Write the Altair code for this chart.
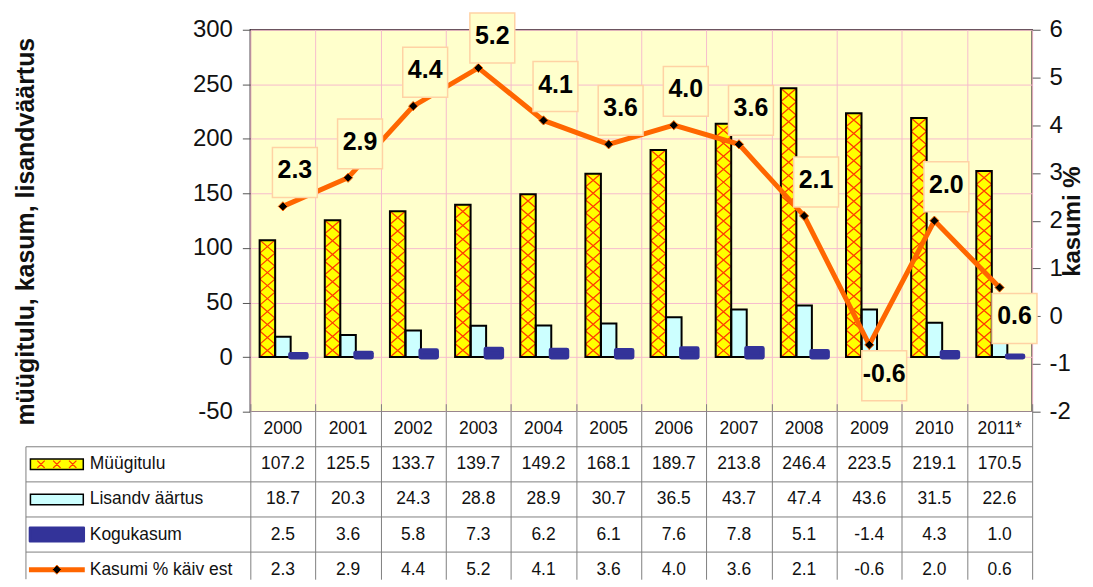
import altair as alt
import pandas as pd

# ---------------- data ----------------
years = ["2000", "2001", "2002", "2003", "2004", "2005", "2006", "2007", "2008", "2009", "2010", "2011*"]
muugitulu = [107.2, 125.5, 133.7, 139.7, 149.2, 168.1, 189.7, 213.8, 246.4, 223.5, 219.1, 170.5]
lisandvaartus = [18.7, 20.3, 24.3, 28.8, 28.9, 30.7, 36.5, 43.7, 47.4, 43.6, 31.5, 22.6]
kogukasum = [2.5, 3.6, 5.8, 7.3, 6.2, 6.1, 7.6, 7.8, 5.1, -1.4, 4.3, 1.0]
kasumi_pct = [2.3, 2.9, 4.4, 5.2, 4.1, 3.6, 4.0, 3.6, 2.1, -0.6, 2.0, 0.6]

series = ["Müügitulu", "Lisandv äärtus", "Kogukasum"]
row_labels = ["Müügitulu", "Lisandv äärtus", "Kogukasum", "Kasumi % käiv est"]
left_title = "müügitulu, kasum, lisandväärtus"
right_title = "kasumi %"
left_ticks = [-50, 0, 50, 100, 150, 200, 250, 300]
right_ticks = [-2, -1, 0, 1, 2, 3, 4, 5, 6]

# ---------------- layout / style ----------------
FONT = "Liberation Sans"
W, H = 784, 383
TH = 168          # visible part of the data table
TR = 176          # full extent of the five table rows (last row runs off the page)
GRID = "#F6BCCD"
LINEC = "#808080"
YELLOW, CYAN, NAVY, ORANGE, HATCH = "#FFFF00", "#CCFFFF", "#333399", "#FF6600", "#FF3C00"

bars_df = pd.DataFrame({
    "cat": years * 2,
    "series": [series[0]] * len(years) + [series[1]] * len(years),
    "value": muugitulu + lisandvaartus,
})
kog_df = pd.DataFrame({"cat": years, "series": series[2], "value": kogukasum})
line_df = pd.DataFrame({"cat": years, "pct": kasumi_pct,
                        "lab": [f"{v:.1f}" for v in kasumi_pct]})

# cross-hatch pattern of the sales bars, tiled inside each bar
px_per_unit = H / 350.0
hatch_rows = []
for c, v in zip(years, muugitulu):
    n = max(1, round(v * px_per_unit / 13.3))
    step = v / n
    for k in range(n):
        hatch_rows.append({"cat": c, "series": series[0], "value": (k + 0.5) * step})
hatch_df = pd.DataFrame(hatch_rows)

# ---------------- main chart ----------------
x_scale = alt.Scale(domain=years, paddingInner=0, paddingOuter=0)
x_main = alt.X("cat:N", scale=x_scale, title=None,
               axis=alt.Axis(labels=False, ticks=False, domain=False, grid=True,
                             gridColor=GRID, gridWidth=1, tickBand="extent"))
xo = alt.XOffset("series:N", scale=alt.Scale(domain=series, paddingInner=0, paddingOuter=0.6))
y_left = alt.Y("value:Q", scale=alt.Scale(domain=[-50, 300], nice=False),
               axis=alt.Axis(values=left_ticks, title=left_title, grid=True, gridColor=GRID,
                             labelExpr="'' + datum.value",
                             domain=False, tickColor="#555", tickSize=8, labelFontSize=24,
                             labelPadding=10, labelColor="#111", titleFontSize=25,
                             titleFontWeight="bold", titleAngle=270, titleX=-217, titleY=202,
                             titleBaseline="alphabetic", titleAlign="center", titleColor="#111"))
y_right = alt.Y("pct:Q", scale=alt.Scale(domain=[-2, 6], nice=False),
                axis=alt.Axis(orient="right", values=right_ticks, title=right_title, grid=False,
                              labelExpr="'' + datum.value",
                              domain=False, tickColor="#555", tickSize=8, labelFontSize=24,
                              labelPadding=9, labelColor="#111", titleFontSize=24,
                              titleFontWeight="bold", titleAngle=270, titleX=52, titleY=192,
                              titleBaseline="bottom", titleAlign="center", titleColor="#111"))

bars_fill = alt.Chart(bars_df).mark_bar(strokeWidth=0).encode(
    x=x_main, xOffset=xo, y=y_left,
    fill=alt.Fill("series:N", scale=alt.Scale(domain=series[:2], range=[YELLOW, CYAN]), legend=None))
XPATH = "M-1,-0.86L1,0.86M1,-0.86L-1,0.86"
hatch = alt.Chart(hatch_df).mark_point(shape=XPATH, size=230, filled=False, stroke=HATCH,
                                       strokeWidth=1.3, opacity=1).encode(x=x_main, xOffset=xo, y=y_left)
outline = alt.Chart(bars_df).mark_bar(fillOpacity=0, stroke="black", strokeWidth=2).encode(
    x=x_main, xOffset=xo, y=y_left)
kog = alt.Chart(kog_df).mark_bar(fill=NAVY, stroke=NAVY, strokeWidth=5, strokeJoin="round").encode(
    x=x_main, xOffset=xo, y=y_left)

line = alt.Chart(line_df).mark_line(color=ORANGE, strokeWidth=5).encode(x=x_main, y=y_right)
pts = alt.Chart(line_df).mark_point(shape="diamond", size=85, filled=True, fill="black",
                                    stroke=ORANGE, strokeWidth=1, opacity=1).encode(x=x_main, y=y_right)
BOX = "M-0.9,-1H0.9V1H-0.9Z"
box_kw = dict(shape=BOX, size=2500, filled=True, fill="#FFFFCC", stroke="#FFD2A4",
              strokeWidth=1.5, opacity=1)
above = (alt.datum.pct >= 1) & (alt.datum.pct < 5)
top = alt.datum.pct >= 5
below = alt.datum.pct < 1
box_a = alt.Chart(line_df).transform_filter(above).mark_point(xOffset=12, yOffset=-34, **box_kw).encode(
    x=x_main, y=y_right)
box_t = alt.Chart(line_df).transform_filter(top).mark_point(xOffset=14, yOffset=-30, **box_kw).encode(
    x=x_main, y=y_right)
box_b = alt.Chart(line_df).transform_filter(below).mark_point(xOffset=15, yOffset=31, **box_kw).encode(
    x=x_main, y=y_right)
txt_kw = dict(fontSize=25, fontWeight="bold", color="black")
txt_a = alt.Chart(line_df).transform_filter(above).mark_text(dx=12, dy=-36, **txt_kw).encode(
    x=x_main, y=y_right, text="lab:N")
txt_t = alt.Chart(line_df).transform_filter(top).mark_text(dx=14, dy=-32, **txt_kw).encode(
    x=x_main, y=y_right, text="lab:N")
txt_b = alt.Chart(line_df).transform_filter(below).mark_text(dx=15, dy=29, **txt_kw).encode(
    x=x_main, y=y_right, text="lab:N")

main = alt.layer(
    alt.layer(bars_fill, hatch, outline, kog),
    alt.layer(line, pts, box_a, box_t, box_b, txt_a, txt_t, txt_b),
).resolve_scale(y="independent").properties(
    width=W, height=H,
    view=alt.ViewBackground(fill="#FFFFCC", stroke="#3a3038", strokeWidth=1.5))

# ---------------- data table ----------------
rk = ["r0", "r1", "r2", "r3", "r4"]
trows = []
for i, c in enumerate(years):
    trows.append({"cat": c, "rk": "r0", "txt": c})
    for key, arr in zip(rk[1:], [muugitulu, lisandvaartus, kogukasum, kasumi_pct]):
        trows.append({"cat": c, "rk": key, "txt": f"{arr[i]:.1f}"})
tdf = pd.DataFrame(trows)
ldf = pd.DataFrame({"rk": rk[1:], "label": row_labels})

tx = alt.X("cat:N", scale=x_scale, title=None,
           axis=alt.Axis(labels=False, ticks=False, domain=False, grid=True,
                         gridColor=LINEC, gridWidth=1, tickBand="extent"))


def ty(bp=None):
    kw = {} if bp is None else {"bandPosition": bp}
    return alt.Y("rk:N", scale=alt.Scale(domain=rk, range=[0, TR], paddingInner=0, paddingOuter=0),
                 title=None, axis=None, **kw)


cells = alt.Chart(tdf).mark_text(fontSize=17.5, color="#111").encode(x=tx, y=ty(), text="txt:N")
leg_text = alt.Chart(ldf).mark_text(fontSize=17.5, align="left", color="#111").encode(
    x=alt.value(-161), y=ty(), text="label:N")
RECT = "M-1,-0.2H1V0.2H-1Z"
XXX = "".join(f"M{c - 0.14:.2f},-0.14L{c + 0.14:.2f},0.14M{c + 0.14:.2f},-0.14L{c - 0.14:.2f},0.14"
              for c in (-0.6, 0.0, 0.6))
sw_x = alt.value(-194)
sw1 = alt.Chart(ldf).transform_filter(alt.datum.rk == "r1").mark_point(
    shape=RECT, size=53 ** 2, filled=True, fill=YELLOW, stroke="black", strokeWidth=1.5, opacity=1
).encode(x=sw_x, y=ty())
sw1x = alt.Chart(ldf).transform_filter(alt.datum.rk == "r1").mark_point(
    shape=XXX, size=53 ** 2, filled=False, stroke=HATCH, strokeWidth=1.2, opacity=1
).encode(x=sw_x, y=ty())
sw2 = alt.Chart(ldf).transform_filter(alt.datum.rk == "r2").mark_point(
    shape=RECT, size=53 ** 2, filled=True, fill=CYAN, stroke="black", strokeWidth=1.5, opacity=1
).encode(x=sw_x, y=ty())
sw3 = alt.Chart(ldf).transform_filter(alt.datum.rk == "r3").mark_point(
    shape="M-1,-0.25H1V0.25H-1Z", size=54 ** 2, filled=True, fill=NAVY, stroke=NAVY,
    strokeWidth=2.5, strokeJoin="round", opacity=1
).encode(x=sw_x, y=ty())
sw4 = alt.Chart(ldf).transform_filter(alt.datum.rk == "r4").mark_point(
    shape="M-1,0L1,0", size=56 ** 2, filled=False, stroke=ORANGE, strokeWidth=5, opacity=1
).encode(x=sw_x, y=ty())
sw4d = alt.Chart(ldf).transform_filter(alt.datum.rk == "r4").mark_point(
    shape="diamond", size=85, filled=True, fill="black", stroke=ORANGE, strokeWidth=1, opacity=1
).encode(x=sw_x, y=ty())
hlines = alt.Chart(ldf).mark_rule(color=LINEC, strokeWidth=1).encode(
    x=alt.value(-225), x2=alt.value(W), y=ty(0))
lborder = alt.Chart(ldf).transform_filter(alt.datum.rk == "r1").mark_rule(
    color=LINEC, strokeWidth=1).encode(x=alt.value(-225), y=ty(0), y2=alt.value(TH))

table = alt.layer(cells, leg_text, hlines, lborder, sw1, sw1x, sw2, sw3, sw4, sw4d).properties(
    width=W, height=TH, view=alt.ViewBackground(fill="white", strokeWidth=0))

chart = alt.vconcat(main, table, spacing=0, bounds="flush").properties(
    padding={"left": 5, "top": 0, "right": 0, "bottom": 0}
).configure(font=FONT)

chart.save("out.html", embed_options={"renderer": "svg", "actions": False})
